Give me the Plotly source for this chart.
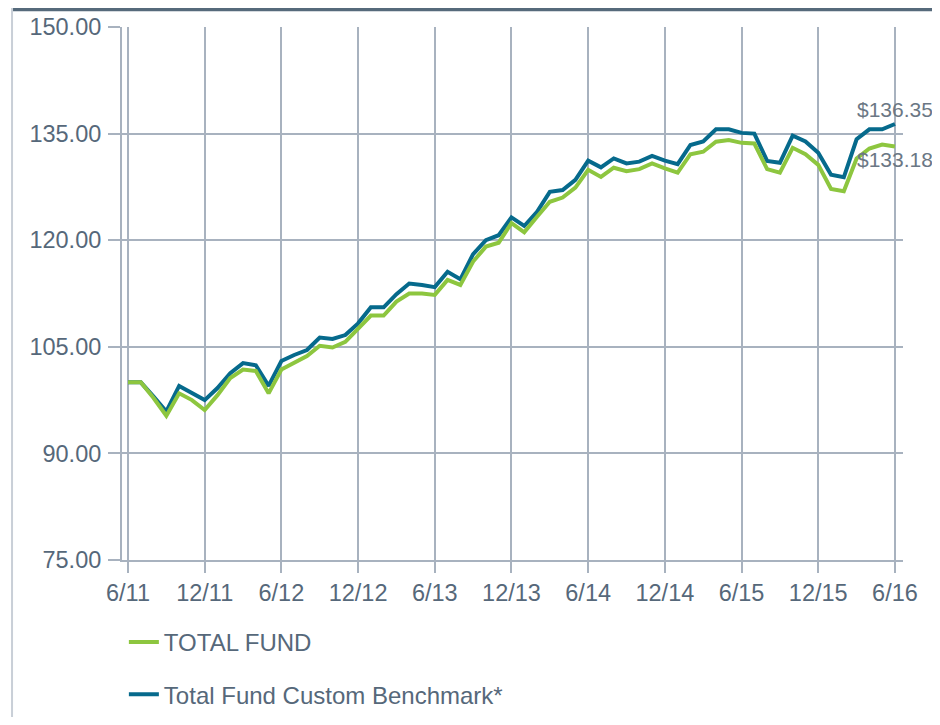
import plotly.graph_objects as go

# Month index 0 = 6/11 ... 60 = 6/16
months = list(range(61))
tick_vals = [0, 6, 12, 18, 24, 30, 36, 42, 48, 54, 60]
tick_text = ["6/11", "12/11", "6/12", "12/12", "6/13", "12/13", "6/14", "12/14", "6/15", "12/15", "6/16"]
y_ticks = [75, 90, 105, 120, 135, 150]

total_fund = [100.0, 100.0, 97.8, 95.3, 98.45, 97.5, 96.1, 98.2, 100.6, 101.8,
              101.6, 98.45, 101.8, 102.8, 103.7, 105.15, 104.9, 105.7, 107.6, 109.4,
              109.4, 111.35, 112.5, 112.5, 112.3, 114.4, 113.7, 117.0, 119.1, 119.65,
              122.4, 121.1, 123.3, 125.4, 126.0, 127.4, 129.9, 128.9, 130.2, 129.7,
              130.0, 130.8, 130.1, 129.5, 132.1, 132.45, 133.85, 134.1, 133.7, 133.6,
              130.0, 129.5, 133.0, 132.1, 130.6, 127.2, 126.9, 131.5, 132.9, 133.45,
              133.18]
benchmark = [100.0, 100.0, 98.0, 95.9, 99.5, 98.45, 97.5, 99.2, 101.3, 102.7,
             102.4, 99.5, 103.0, 103.85, 104.55, 106.3, 106.1, 106.65, 108.3, 110.55,
             110.55, 112.4, 113.9, 113.7, 113.4, 115.55, 114.5, 118.05, 120.0, 120.7,
             123.2, 122.0, 124.0, 126.8, 127.05, 128.5, 131.2, 130.25, 131.5, 130.8,
             131.05, 131.85, 131.2, 130.7, 133.4, 133.9, 135.6, 135.6, 135.1, 135.0,
             131.15, 130.9, 134.7, 133.9, 132.3, 129.2, 128.85, 134.2, 135.6, 135.6,
             136.35]

GREEN = "#8dc63f"
BLUE = "#066a8c"
GRID = "#a8b2bf"
TEXT = "#56687a"
FONT = "Arial, Liberation Sans, sans-serif"

fig = go.Figure()
fig.add_trace(go.Scatter(x=months, y=benchmark, mode="lines", name="Total Fund Custom Benchmark*",
                         legendgroup="b", legendrank=2, line=dict(color=BLUE, width=4)))
fig.add_trace(go.Scatter(x=months, y=total_fund, mode="lines", name="TOTAL FUND",
                         legendgroup="a", legendrank=1, line=dict(color=GREEN, width=4)))

fig.add_annotation(x=months[-1], y=benchmark[-1], text="$%.2f" % benchmark[-1], showarrow=False,
                   xanchor="center", yanchor="bottom", yshift=1,
                   font=dict(family=FONT, size=21, color="#6b7784"))
fig.add_annotation(x=months[-1], y=total_fund[-1], text="$%.2f" % total_fund[-1], showarrow=False,
                   xanchor="center", yanchor="top", yshift=1,
                   font=dict(family=FONT, size=21, color="#6b7784"))

# container decorations: top dark bar and left border
fig.add_shape(type="rect", xref="paper", yref="paper", x0=-0.141, x1=1.06, y0=1.0294, y1=1.06,
              fillcolor="#566a7b", line=dict(width=0), layer="above")
fig.add_shape(type="line", xref="paper", yref="paper", x0=-0.1408, x1=-0.1408, y0=-0.32, y1=1.05,
              line=dict(color="#c9cfd7", width=2))

fig.update_layout(
    width=932, height=709,
    margin=dict(l=114, r=37, t=19, b=157, autoexpand=False),
    paper_bgcolor="white", plot_bgcolor="white",
    font=dict(family=FONT, color=TEXT),
    showlegend=True,
    legend=dict(orientation="v", x=0.0024, xanchor="left", y=-0.1126, yanchor="top",
                traceorder="grouped", tracegroupgap=18,
                font=dict(family=FONT, size=24, color=TEXT), bgcolor="rgba(0,0,0,0)"),
    xaxis=dict(range=[-0.47, 60.63], tickmode="array", tickvals=tick_vals, ticktext=tick_text,
               showgrid=True, gridcolor=GRID, gridwidth=1.6, zeroline=False,
               showline=True, linecolor=GRID, linewidth=2,
               ticks="outside", ticklen=11, tickwidth=1.6, tickcolor=GRID,
               ticklabelstandoff=0,
               tickfont=dict(family=FONT, size=23.5, color=TEXT)),
    yaxis=dict(range=[75, 150], tickmode="array", tickvals=y_ticks, tickformat=".2f",
               showgrid=True, gridcolor=GRID, gridwidth=1.6, zeroline=False,
               showline=True, linecolor=GRID, linewidth=2,
               ticks="outside", ticklen=12, tickwidth=1.6, tickcolor=GRID,
               ticklabelstandoff=2,
               tickfont=dict(family=FONT, size=23.5, color=TEXT)),
)

fig.write_html("out.html")
